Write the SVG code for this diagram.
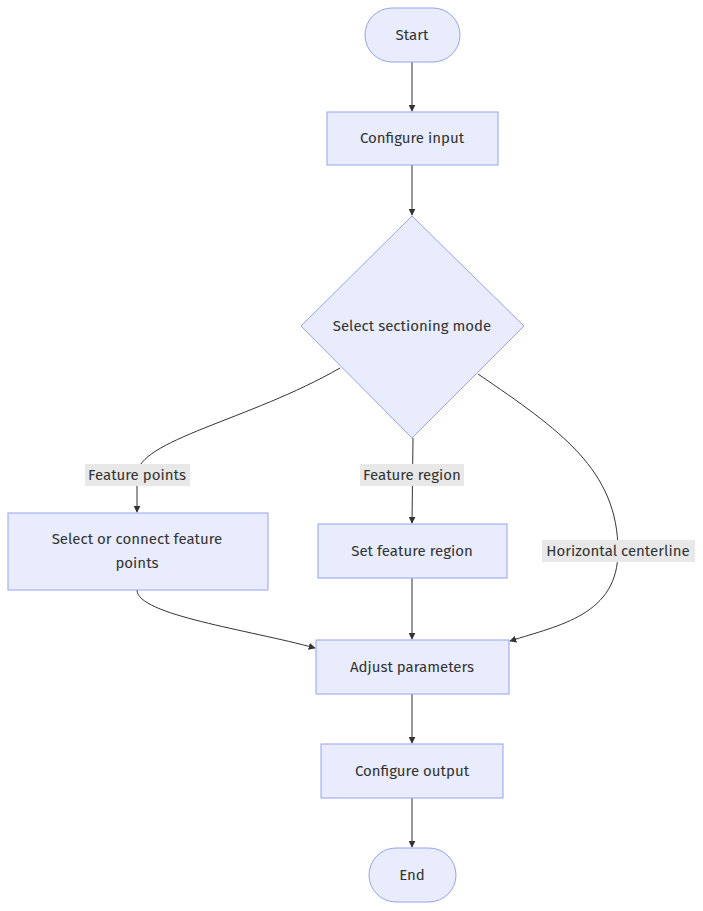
<svg xmlns="http://www.w3.org/2000/svg" width="703" height="911" viewBox="0 0 703 911">
<style>
.n{fill:#e8ecfc;stroke:#96a3ee;stroke-width:1}
.t{font-family:"Fira Sans","Noto Sans","Liberation Sans",sans-serif;font-size:15px;fill:#333;text-anchor:middle;dominant-baseline:central}
.e{fill:none;stroke:#333;stroke-width:1;marker-end:url(#a)}
.lb{fill:#e8e8e8}
</style>
<defs><marker id="a" viewBox="0 0 10 10" refX="9" refY="5" markerWidth="7" markerHeight="7" orient="auto"><path d="M0,0L10,5L0,10z" fill="#333"/></marker></defs>
<rect width="703" height="911" fill="#fff"/>
<g id="edges">
<path class="e" d="M412,62V111"/>
<path class="e" d="M412,165V215"/>
<path class="e" d="M340,368C250,420 137,440 137,475V512"/>
<path class="e" d="M413,438L412,523"/>
<path class="e" d="M478,374C560,430 618,470 618,551C618,615 560,625 510,641"/>
<path class="e" d="M137,590C137,615 250,630 315,648"/>
<path class="e" d="M412,578V639"/>
<path class="e" d="M412,694V743"/>
<path class="e" d="M412,798V847"/>
<rect class="lb" x="85" y="464" width="105" height="22"/><text class="t" x="137" y="475">Feature points</text>
<rect class="lb" x="360" y="464" width="104" height="22"/><text class="t" x="412" y="475">Feature region</text>
<rect class="lb" x="542" y="540" width="153" height="22"/><text class="t" x="618" y="551">Horizontal centerline</text>
</g>
<g id="start"><rect class="n" x="365" y="8" width="95" height="54" rx="27"/><text class="t" x="412" y="35">Start</text></g>
<g id="cfgin"><rect class="n" x="327" y="112" width="171" height="53"/><text class="t" x="412" y="138">Configure input</text></g>
<g id="mode"><path class="n" d="M412,216L524,326L412,438L301,326Z"/><text class="t" x="412" y="326">Select sectioning mode</text></g>
<g id="fp"><rect class="n" x="8" y="513" width="260" height="77"/><text class="t" x="137" y="539">Select or connect feature</text><text class="t" x="137" y="563">points</text></g>
<g id="fr"><rect class="n" x="318" y="524" width="189" height="54"/><text class="t" x="412" y="551">Set feature region</text></g>
<g id="adj"><rect class="n" x="316" y="640" width="193" height="54"/><text class="t" x="412" y="667">Adjust parameters</text></g>
<g id="cfgout"><rect class="n" x="321" y="744" width="182" height="54"/><text class="t" x="412" y="771">Configure output</text></g>
<g id="end"><rect class="n" x="369" y="848" width="87" height="54" rx="27"/><text class="t" x="412" y="875">End</text></g>
</svg>
